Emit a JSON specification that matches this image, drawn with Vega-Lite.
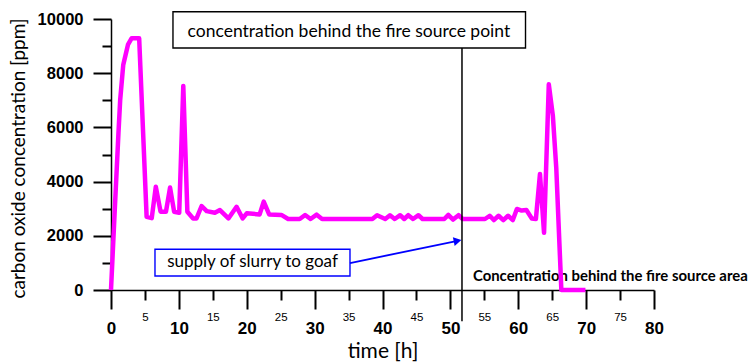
{
  "$schema": "https://vega.github.io/schema/vega-lite/v6.json",
  "width": 543,
  "height": 271,
  "autosize": "none",
  "padding": {"left": 111, "top": 19, "right": 98, "bottom": 74},
  "background": "white",
  "config": {"view": {"stroke": null}},
  "resolve": {"axis": {"x": "independent", "y": "independent"}},
  "layer": [
    {
      "data": {"values": [{"label": "Concentration behind the fire source area", "t": 53.33, "c": 343}]},
      "mark": {"type": "text", "font": "Lato", "fontWeight": "bold", "fontSize": 14.9, "align": "left", "baseline": "alphabetic", "color": "black"},
      "encoding": {
        "x": {"field": "t", "type": "quantitative", "scale": {"domain": [0, 80], "nice": false}, "axis": null},
        "y": {"field": "c", "type": "quantitative", "scale": {"domain": [0, 10000], "nice": false}, "axis": null},
        "text": {"field": "label"}
      }
    },
    {
      "data": {"values": [
        {"t": 0, "c": 0}, {"t": 0.6, "c": 3200}, {"t": 1.1, "c": 5800}, {"t": 1.35, "c": 7000},
        {"t": 1.8, "c": 8300}, {"t": 2.5, "c": 9050}, {"t": 3.05, "c": 9290}, {"t": 4.15, "c": 9290},
        {"t": 5.25, "c": 2700}, {"t": 6.0, "c": 2650}, {"t": 6.6, "c": 3810}, {"t": 7.3, "c": 2890},
        {"t": 8.1, "c": 2890}, {"t": 8.7, "c": 3780}, {"t": 9.3, "c": 2890}, {"t": 10.05, "c": 2850},
        {"t": 10.65, "c": 7530}, {"t": 11.25, "c": 2890}, {"t": 12.1, "c": 2640}, {"t": 12.6, "c": 2640},
        {"t": 13.35, "c": 3100}, {"t": 14.1, "c": 2910}, {"t": 15.3, "c": 2850}, {"t": 16.05, "c": 2950},
        {"t": 17.3, "c": 2640}, {"t": 18.5, "c": 3070}, {"t": 19.4, "c": 2640}, {"t": 20.0, "c": 2830},
        {"t": 21.9, "c": 2790}, {"t": 22.5, "c": 3260}, {"t": 23.3, "c": 2790}, {"t": 25.1, "c": 2770},
        {"t": 26.1, "c": 2620}, {"t": 27.8, "c": 2620}, {"t": 28.6, "c": 2770}, {"t": 29.4, "c": 2620},
        {"t": 30.3, "c": 2780}, {"t": 31.1, "c": 2620}, {"t": 38.5, "c": 2620}, {"t": 39.2, "c": 2760},
        {"t": 40.4, "c": 2620}, {"t": 41.1, "c": 2760}, {"t": 41.8, "c": 2620}, {"t": 42.6, "c": 2760},
        {"t": 43.2, "c": 2620}, {"t": 43.8, "c": 2760}, {"t": 44.5, "c": 2620}, {"t": 45.3, "c": 2760},
        {"t": 45.9, "c": 2620}, {"t": 49.1, "c": 2620}, {"t": 49.7, "c": 2770}, {"t": 50.4, "c": 2600},
        {"t": 51.2, "c": 2760}, {"t": 51.8, "c": 2620}, {"t": 55.1, "c": 2620}, {"t": 55.8, "c": 2740},
        {"t": 56.4, "c": 2580}, {"t": 57.1, "c": 2740}, {"t": 57.8, "c": 2580}, {"t": 58.5, "c": 2740},
        {"t": 59.2, "c": 2580}, {"t": 59.8, "c": 2990}, {"t": 60.5, "c": 2930}, {"t": 61.2, "c": 2950},
        {"t": 62.0, "c": 2640}, {"t": 62.6, "c": 2620}, {"t": 63.2, "c": 4280}, {"t": 63.8, "c": 2110},
        {"t": 64.5, "c": 7590}, {"t": 65.1, "c": 6430}, {"t": 65.6, "c": 4510}, {"t": 66.35, "c": 0},
        {"t": 69.9, "c": 0}
      ]},
      "mark": {"type": "line", "color": "#FF00FF", "strokeWidth": 4.5, "strokeJoin": "round"},
      "encoding": {
        "x": {"field": "t", "type": "quantitative", "scale": {"domain": [0, 80], "nice": false},
          "axis": {"orient": "bottom", "values": [0, 10, 20, 30, 40, 50, 60, 70, 80], "tickSize": 19, "tickWidth": 2, "tickColor": "black",
            "domainColor": "black", "domainWidth": 1.5, "grid": false, "labelFlush": false, "labelOverlap": false,
            "labelFont": "Liberation Sans", "labelFontWeight": "bold", "labelFontSize": 17, "labelColor": "black",
            "labelBaseline": "alphabetic", "labelPadding": 24.6,
            "title": "time [h]", "titleFont": "Lato", "titleFontWeight": "normal", "titleFontSize": 21, "titleColor": "black",
            "titleX": 271.5, "titleY": 67, "titleBaseline": "alphabetic", "titleAlign": "center"}},
        "y": {"field": "c", "type": "quantitative", "scale": {"domain": [0, 10000], "nice": false},
          "axis": {"orient": "left", "values": [0, 2000, 4000, 6000, 8000, 10000], "format": "d", "tickSize": 18, "tickWidth": 2, "tickColor": "black",
            "domainColor": "black", "domainWidth": 1.5, "grid": false, "labelFlush": false, "labelOverlap": false,
            "labelFont": "Liberation Sans", "labelFontWeight": "bold", "labelFontSize": 16.5, "labelColor": "black", "labelPadding": 10,
            "title": "carbon oxide concentration [ppm]", "titleFont": "Lato", "titleFontWeight": "normal", "titleFontSize": 19, "titleColor": "black",
            "titleX": -93, "titleY": 139, "titleAngle": -90, "titleBaseline": "middle", "titleAlign": "center"}}
      }
    },
    {
      "data": {"values": [{"t": 51.71, "c": 8930, "c2": -1150}]},
      "mark": {"type": "rule", "color": "black", "strokeWidth": 1.5},
      "encoding": {
        "x": {"field": "t", "type": "quantitative", "scale": {"domain": [0, 80], "nice": false},
          "axis": {"orient": "bottom", "values": [5, 15, 25, 35, 45, 55, 65, 75], "tickSize": 10, "tickWidth": 2, "tickColor": "black",
            "domain": false, "grid": false, "labelFlush": false, "labelOverlap": false,
            "labelFont": "Liberation Sans", "labelFontSize": 11.5, "labelColor": "black", "labelBaseline": "alphabetic", "labelPadding": 20.3,
            "title": null}},
        "y": {"field": "c", "type": "quantitative", "scale": {"domain": [0, 10000], "nice": false},
          "axis": {"orient": "left", "values": [1000, 3000, 5000, 7000, 9000], "tickSize": 9, "tickWidth": 2, "tickColor": "black",
            "domain": false, "grid": false, "labels": false, "title": null}},
        "y2": {"field": "c2"}
      }
    },
    {
      "data": {"values": [
        {"t": 9.13, "t2": 61.07, "c": 10269, "c2": 8930, "col": "black"},
        {"t": 6.48, "t2": 35.21, "c": 1502, "c2": 517, "col": "blue"}
      ]},
      "mark": {"type": "rect", "fill": "white", "strokeWidth": 1.4},
      "encoding": {
        "x": {"field": "t", "type": "quantitative", "scale": {"domain": [0, 80], "nice": false}, "axis": null},
        "x2": {"field": "t2"},
        "y": {"field": "c", "type": "quantitative", "scale": {"domain": [0, 10000], "nice": false}, "axis": null},
        "y2": {"field": "c2"},
        "stroke": {"field": "col", "type": "nominal", "scale": {"domain": ["black", "blue"], "range": ["#000000", "#0000FF"]}, "legend": null}
      }
    },
    {
      "data": {"values": [
        {"label": "concentration behind the fire source point", "t": 35.05, "c": 9347, "fs": "big"},
        {"label": "supply of slurry to goaf", "t": 20.85, "c": 860, "fs": "small"}
      ]},
      "mark": {"type": "text", "font": "Lato", "align": "center", "baseline": "alphabetic", "color": "black"},
      "encoding": {
        "x": {"field": "t", "type": "quantitative", "scale": {"domain": [0, 80], "nice": false}, "axis": null},
        "y": {"field": "c", "type": "quantitative", "scale": {"domain": [0, 10000], "nice": false}, "axis": null},
        "text": {"field": "label"},
        "size": {"field": "fs", "type": "nominal", "scale": {"domain": ["big", "small"], "range": [17.5, 17]}, "legend": null}
      }
    },
    {
      "data": {"values": [{"t": 35.21, "c": 996, "t2": 51.06, "c2": 1812}]},
      "mark": {"type": "rule", "color": "#0000FF", "strokeWidth": 1.8},
      "encoding": {
        "x": {"field": "t", "type": "quantitative", "scale": {"domain": [0, 80], "nice": false}, "axis": null},
        "y": {"field": "c", "type": "quantitative", "scale": {"domain": [0, 10000], "nice": false}, "axis": null},
        "x2": {"field": "t2"},
        "y2": {"field": "c2"}
      }
    },
    {
      "data": {"values": [{"t": 51.06, "c": 1812}]},
      "mark": {"type": "point", "shape": "triangle-right", "filled": true, "color": "#0000FF", "size": 80, "angle": -11.6, "opacity": 1},
      "encoding": {
        "x": {"field": "t", "type": "quantitative", "scale": {"domain": [0, 80], "nice": false}, "axis": null},
        "y": {"field": "c", "type": "quantitative", "scale": {"domain": [0, 10000], "nice": false}, "axis": null}
      }
    }
  ]
}
